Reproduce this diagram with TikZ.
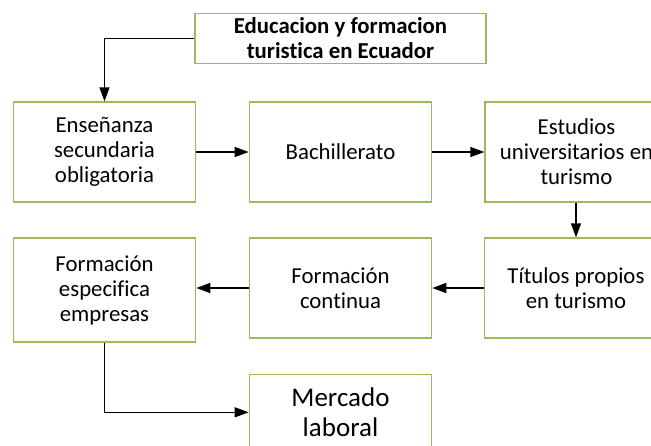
\documentclass[tikz,border=0pt]{standalone}
\usepackage{fontspec}
\setmainfont[Ligatures=CommonOff]{Carlito}
\usetikzlibrary{arrows.meta}
\begin{document}
\begin{tikzpicture}[x=1pt,y=-1pt,
  box/.style={draw=boxgreen, line width=1.2pt, rectangle, align=center, inner sep=0pt,
    font=\fontsize{22.8}{25}\selectfont},
  conn/.style={draw=black, line width=1.2pt, -{Triangle[length=14pt,width=10pt]}},
  line/.style={draw=black, line width=1.2pt}]
\definecolor{boxgreen}{HTML}{9BBB59}
\useasboundingbox (0,0) rectangle (651,445);
\node[box, minimum width=291pt, minimum height=50pt, font=\fontsize{22.8}{25}\selectfont\bfseries] (top) at (340.5,38.3) {Educacion y formacion\\turistica en Ecuador};
\node[box, minimum width=182.4pt, minimum height=100pt] (ens) at (104.5,152) {Enseñanza\\secundaria\\obligatoria};
\node[box, minimum width=182.4pt, minimum height=100pt] (bach) at (340.5,152) {Bachillerato};
\node[box, minimum width=183pt, minimum height=100pt] (est) at (576.5,152) {Estudios\\universitarios en\\turismo};
\node[box, minimum width=182.4pt, minimum height=100pt] (tit) at (576,288) {Títulos propios\\en turismo};
\node[box, minimum width=182.4pt, minimum height=100pt] (cont) at (340.5,288) {Formación\\continua};
\node[box, minimum width=182.4pt, minimum height=104pt] (esp) at (104.5,290) {Formación\\especifica\\empresas};
\node[box, minimum width=182.4pt, minimum height=76pt, font=\fontsize{27}{30}\selectfont] (merc) at (340.5,412.3) {Mercado\\laboral};
\draw[conn] (top.west) -- (top.west -| ens.north) -- (ens.north);
\draw[conn] (ens.east) -- (bach.west);
\draw[conn] (bach.east) -- (est.west);
\draw[conn] (est.south -| tit.north) -- (tit.north);
\draw[conn] (tit.west) -- (tit.west -| cont.east);
\draw[conn] (cont.west) -- (cont.west -| esp.east);
\draw[conn] (esp.south) |- (merc.west);
\end{tikzpicture}
\end{document}
